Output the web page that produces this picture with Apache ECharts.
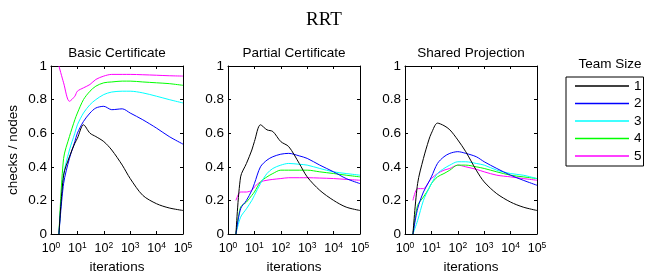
<!DOCTYPE html>
<html>
<head>
<meta charset="utf-8">
<script src="https://cdn.jsdelivr.net/npm/echarts@6/dist/echarts.min.js"></script>
<style>
  html, body { margin: 0; padding: 0; background: #fff; }
  #chart { width: 650px; height: 272px; }
</style>
</head>
<body>
<div id="chart"></div>
<script>
// iterations sampled along the log axis
const iterations = [2, 3, 5, 8, 10, 17, 30, 50, 100, 200, 500, 1000, 3000, 10000, 30000, 100000]
const teamSizes = ['1', '2', '3', '4', '5']
const teamColors = ['#000000', '#0000ff', '#00ffff', '#00ff00', '#ff00ff']
const panelTitles = ['Basic Certificate', 'Partial Certificate', 'Shared Projection']
const yTicks = [0, 0.2, 0.4, 0.6, 0.8, 1]

// checks / nodes, one array per team size
const basic1 = [0, 0.35, 0.46, 0.54, 0.57, 0.65, 0.6, 0.58, 0.55, 0.5, 0.41, 0.33, 0.23, 0.18, 0.155, 0.14]
const basic2 = [0, 0.3, 0.45, 0.55, 0.6, 0.67, 0.72, 0.75, 0.76, 0.74, 0.745, 0.72, 0.68, 0.63, 0.58, 0.535]
const basic3 = [0, 0.35, 0.5, 0.6, 0.65, 0.72, 0.77, 0.8, 0.83, 0.845, 0.85, 0.85, 0.84, 0.82, 0.8, 0.78]
const basic4 = [0, 0.45, 0.58, 0.68, 0.72, 0.8, 0.85, 0.88, 0.9, 0.905, 0.91, 0.91, 0.905, 0.9, 0.895, 0.885]
const basic5 = [1.0, 0.9, 0.79, 0.82, 0.85, 0.87, 0.89, 0.92, 0.94, 0.95, 0.95, 0.95, 0.948, 0.945, 0.942, 0.94]

const partial1 = [0, 0.34, 0.42, 0.5, 0.55, 0.65, 0.62, 0.61, 0.55, 0.52, 0.42, 0.34, 0.26, 0.2, 0.16, 0.14]
const partial2 = [0, 0.15, 0.2, 0.26, 0.3, 0.4, 0.44, 0.46, 0.475, 0.48, 0.465, 0.45, 0.41, 0.37, 0.33, 0.3]
const partial3 = [0, 0.1, 0.15, 0.2, 0.23, 0.3, 0.36, 0.39, 0.41, 0.42, 0.415, 0.41, 0.39, 0.37, 0.36, 0.35]
const partial4 = [0, 0.16, 0.19, 0.23, 0.25, 0.31, 0.34, 0.36, 0.38, 0.38, 0.38, 0.38, 0.37, 0.36, 0.35, 0.34]
const partial5 = [0.2, 0.25, 0.25, 0.26, 0.28, 0.31, 0.32, 0.325, 0.33, 0.335, 0.335, 0.335, 0.333, 0.33, 0.325, 0.32]

const shared1 = [0, 0.3, 0.45, 0.56, 0.6, 0.66, 0.645, 0.62, 0.56, 0.49, 0.38, 0.31, 0.24, 0.19, 0.16, 0.14]
const shared2 = [0, 0.15, 0.25, 0.31, 0.34, 0.42, 0.46, 0.48, 0.49, 0.48, 0.46, 0.43, 0.39, 0.35, 0.32, 0.29]
const shared3 = [0, 0.08, 0.2, 0.27, 0.3, 0.36, 0.39, 0.41, 0.43, 0.43, 0.42, 0.41, 0.38, 0.36, 0.35, 0.33]
const shared4 = [0, 0.17, 0.22, 0.27, 0.3, 0.34, 0.36, 0.38, 0.41, 0.41, 0.4, 0.39, 0.37, 0.35, 0.34, 0.33]
const shared5 = [0.2, 0.27, 0.27, 0.31, 0.33, 0.36, 0.38, 0.39, 0.41, 0.4, 0.385, 0.37, 0.35, 0.34, 0.33, 0.32]

const panels = [
  [basic1, basic2, basic3, basic4, basic5],
  [partial1, partial2, partial3, partial4, partial5],
  [shared1, shared2, shared3, shared4, shared5]
]

const gridLefts = [51, 228, 405]
const font = 'Liberation Sans, Arial, sans-serif'

const chart = echarts.init(document.getElementById('chart'))

const grids = []
const xAxes = []
const yAxes = []
const series = []
const titles = [{
  text: 'RRT', left: 324, top: 11, textAlign: 'center', padding: 0,
  textStyle: { fontFamily: 'Liberation Serif, Times New Roman, serif', fontSize: 19, fontWeight: 'normal', color: '#000' }
}]

panels.forEach((panel, i) => {
  grids.push({ left: gridLefts[i], top: 66, width: 132, height: 168, show: false, outerBoundsMode: 'none', containLabel: false })
  titles.push({
    text: panelTitles[i], left: gridLefts[i] + 66, top: 46, textAlign: 'center', padding: 0,
    textStyle: { fontFamily: font, fontSize: 13.5, fontWeight: 'normal', color: '#000' }
  })
  const base = {
    type: 'log', logBase: 10, min: 1, max: 100000, gridIndex: i,
    axisLine: { show: true, onZero: false, lineStyle: { color: '#000', width: 1 } },
    axisTick: { show: true, inside: true, length: 3, lineStyle: { color: '#000' } },
    splitLine: { show: false }
  }
  xAxes.push(Object.assign({}, base, {
    position: 'bottom',
    name: 'iterations', nameLocation: 'middle', nameGap: 22,
    nameTextStyle: { fontFamily: font, fontSize: 13.5, color: '#000' },
    axisLabel: {
      margin: 7,
      formatter: v => '{b|10}{s|' + Math.round(Math.log10(v)) + '}',
      rich: {
        b: { fontFamily: font, fontSize: 12.5, color: '#000' },
        s: { fontFamily: font, fontSize: 8.5, color: '#000', padding: [0, 0, 7, 0] }
      }
    }
  }))
  xAxes.push(Object.assign({}, base, { position: 'top', axisLabel: { show: false } }))
  const ybase = {
    type: 'value', min: 0, max: 1, interval: 0.2, gridIndex: i,
    axisLine: { show: true, lineStyle: { color: '#000', width: 1 } },
    axisTick: { show: true, inside: true, length: 3, lineStyle: { color: '#000' } },
    splitLine: { show: false }
  }
  yAxes.push(Object.assign({}, ybase, {
    position: 'left',
    name: i === 0 ? 'checks / nodes' : '', nameLocation: 'middle', nameGap: 31,
    nameTextStyle: { fontFamily: font, fontSize: 13.5, color: '#000' },
    axisLabel: { margin: 4, fontFamily: font, fontSize: 13.5, color: '#000', formatter: v => String(Math.round(v * 10) / 10) }
  }))
  yAxes.push(Object.assign({}, ybase, { position: 'right', axisLabel: { show: false } }))

  panel.forEach((vals, k) => {
    series.push({
      type: 'line', name: teamSizes[k],
      xAxisIndex: i * 2, yAxisIndex: i * 2,
      data: iterations.map((x, j) => [x, vals[j]]),
      showSymbol: false, symbol: 'none', smooth: 0.3,
      lineStyle: { color: teamColors[k], width: 1 },
      itemStyle: { color: teamColors[k] },
      z: 10 - k
    })
  })
})

chart.setOption({
  animation: false,
  title: titles,
  grid: grids,
  xAxis: xAxes,
  yAxis: yAxes,
  series,
  legend: {
    data: teamSizes,
    orient: 'vertical',
    left: 566, top: 77,
    padding: [2, 2, 3, 9],
    itemGap: 3.5,
    itemWidth: 54, itemHeight: 1.5,
    itemTextGap: 10,
    icon: 'rect',
    borderColor: '#000', borderWidth: 1,
    textStyle: { fontFamily: font, fontSize: 13.5, color: '#000', lineHeight: 14 },
    selectedMode: false
  },
  graphic: [{
    type: 'text', x: 610, y: 64,
    style: { text: 'Team Size', fontFamily: font, fontSize: 13.5, fill: '#000', align: 'center', verticalAlign: 'middle' }
  }]
})
</script>
</body>
</html>
